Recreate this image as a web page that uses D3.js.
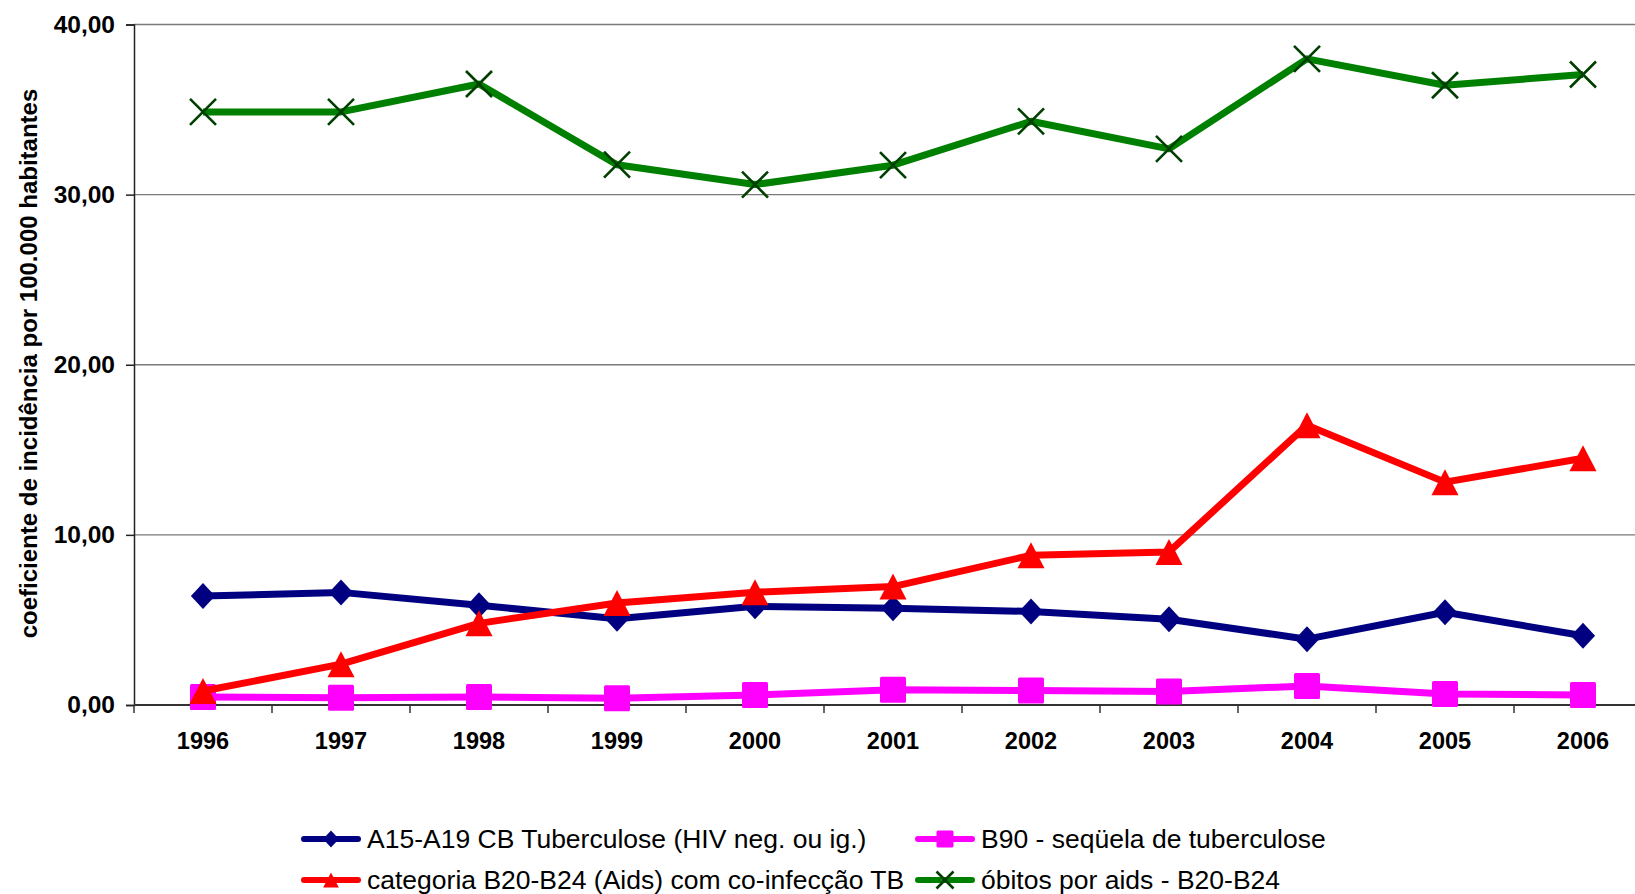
<!DOCTYPE html>
<html>
<head>
<meta charset="utf-8">
<script src="https://cdn.jsdelivr.net/npm/d3@7"></script>
<style>
  html, body { margin: 0; padding: 0; background: #fff; }
  svg { display: block; font-family: "Liberation Sans", Arial, Helvetica, sans-serif; }
</style>
</head>
<body>
<svg id="chart" width="1635" height="894"></svg>
<script>
// ---- data ----
const years = ["1996","1997","1998","1999","2000","2001","2002","2003","2004","2005","2006"];
const yTickValues = [0, 10, 20, 30, 40];
const yTickLabels = ["0,00", "10,00", "20,00", "30,00", "40,00"];
const seriesNames = [
  "A15-A19 CB Tuberculose (HIV neg. ou ig.)",
  "B90 - seqüela de tuberculose",
  "categoria B20-B24 (Aids) com co-infecção TB",
  "óbitos por aids - B20-B24"
];
const tbValues     = [6.4, 6.62, 5.86, 5.07, 5.8, 5.68, 5.5, 5.04, 3.87, 5.45, 4.07];
const b90Values    = [0.47, 0.43, 0.47, 0.39, 0.59, 0.9, 0.85, 0.8, 1.12, 0.65, 0.59];
const aidsTbValues = [0.82, 2.4, 4.8, 6.0, 6.63, 6.96, 8.8, 9.0, 16.45, 13.1, 14.5];
const obitosValues = [34.86, 34.86, 36.5, 31.76, 30.59, 31.73, 34.31, 32.69, 37.98, 36.43, 37.06];
const yTitle = "coeficiente de incidência por 100.000 habitantes";

// ---- layout ----
const svg = d3.select("#chart");
const plotLeft = 134, plotRight = 1652, plotTop = 24.5, plotBottom = 705;

const x = d3.scaleBand().domain(years).range([plotLeft, plotRight]);
const xc = d => x(d) + x.bandwidth() / 2;
const y = d3.scaleLinear().domain([0, 40]).range([plotBottom, plotTop]);

// gridlines
svg.append("g").selectAll("line")
  .data(yTickValues.filter(v => v > 0))
  .join("line")
  .attr("x1", plotLeft).attr("x2", plotRight)
  .attr("y1", d => y(d)).attr("y2", d => y(d))
  .attr("stroke", "#7a7a7a").attr("stroke-width", 1.4);

// y axis
const yAxis = d3.axisLeft(y).tickValues(yTickValues)
  .tickFormat((d, i) => yTickLabels[i]).tickSize(8).tickPadding(11);
const gy = svg.append("g").attr("transform", `translate(${plotLeft},0)`).call(yAxis);
gy.select(".domain").attr("stroke", "#222").attr("stroke-width", 1.5);
gy.selectAll(".tick line").attr("stroke", "#222").attr("stroke-width", 1.5);
gy.selectAll(".tick text")
  .attr("font-family", "Liberation Sans, Arial, sans-serif")
  .attr("font-size", 24.5).attr("font-weight", "bold").attr("fill", "#000");

// x axis (ticks between categories)
const gx = svg.append("g").attr("transform", `translate(0,${plotBottom})`);
gx.append("line").attr("x1", plotLeft).attr("x2", plotRight)
  .attr("stroke", "#333").attr("stroke-width", 1.8);
const boundaries = years.map(d => x(d)).concat([x(years[years.length - 1]) + x.bandwidth()]);
gx.selectAll("line.tk").data(boundaries).join("line").attr("class", "tk")
  .attr("x1", d => d).attr("x2", d => d).attr("y1", 0).attr("y2", 8)
  .attr("stroke", "#333").attr("stroke-width", 1.5);
gx.selectAll("text").data(years).join("text")
  .attr("x", d => xc(d)).attr("y", 44)
  .attr("text-anchor", "middle")
  .attr("font-size", 23.5).attr("font-weight", "bold").attr("fill", "#000")
  .text(d => d);

// y title
svg.append("text")
  .attr("transform", `translate(37,363.5) rotate(-90)`)
  .attr("text-anchor", "middle")
  .attr("font-size", 24).attr("font-weight", "bold").attr("fill", "#000")
  .text(yTitle);

// ---- markers ----
function drawMarker(g, type, cx, cy, s, color) {
  const h = s / 2;
  if (type === "diamond") {
    g.append("path").attr("d", `M${cx},${cy - h} L${cx + h * 0.93},${cy} L${cx},${cy + h} L${cx - h * 0.93},${cy} Z`)
      .attr("fill", color);
  } else if (type === "square") {
    g.append("rect").attr("x", cx - h).attr("y", cy - h).attr("width", s).attr("height", s)
      .attr("rx", 1.5).attr("fill", color);
  } else if (type === "triangle") {
    g.append("path").attr("d", `M${cx},${cy - h} L${cx + h * 1.04},${cy + h} L${cx - h * 1.04},${cy + h} Z`)
      .attr("fill", color);
  } else if (type === "x") {
    g.append("path").attr("d", `M${cx - h},${cy - h} L${cx + h},${cy + h} M${cx + h},${cy - h} L${cx - h},${cy + h}`)
      .attr("stroke", "#003f00").attr("stroke-width", 2.6).attr("fill", "none");
  }
}

const series = [
  { name: seriesNames[0], values: tbValues,     color: "#000080", marker: "diamond",  size: 26 },
  { name: seriesNames[1], values: b90Values,    color: "#ff00ff", marker: "square",   size: 26 },
  { name: seriesNames[2], values: aidsTbValues, color: "#ff0000", marker: "triangle", size: 26 },
  { name: seriesNames[3], values: obitosValues, color: "#008000", marker: "x",        size: 26 }
];

const line = d3.line().x((d, i) => xc(years[i])).y(d => y(d));

series.forEach(s => {
  const g = svg.append("g");
  g.append("path").datum(s.values).attr("d", line)
    .attr("fill", "none").attr("stroke", s.color).attr("stroke-width", 7)
    .attr("stroke-linejoin", "round");
  s.values.forEach((v, i) => drawMarker(g, s.marker, xc(years[i]), y(v), s.size, s.color));
});

// ---- legend ----
const legendPos = [
  { x: 301, y: 848 }, { x: 915, y: 848 },
  { x: 301, y: 889 }, { x: 915, y: 889 }
];
series.forEach((s, i) => {
  const p = legendPos[i];
  const g = svg.append("g");
  const cy = p.y - 9;
  g.append("line").attr("x1", p.x + 3).attr("x2", p.x + 57).attr("y1", cy).attr("y2", cy)
    .attr("stroke", s.color).attr("stroke-width", 6).attr("stroke-linecap", "round");
  drawMarker(g, s.marker, p.x + 30, cy, s.marker === "triangle" ? 15 : 17, s.color);
  g.append("text").attr("x", p.x + 66).attr("y", p.y)
    .attr("font-size", 26.5).attr("fill", "#000").text(s.name);
});
</script>
</body>
</html>
